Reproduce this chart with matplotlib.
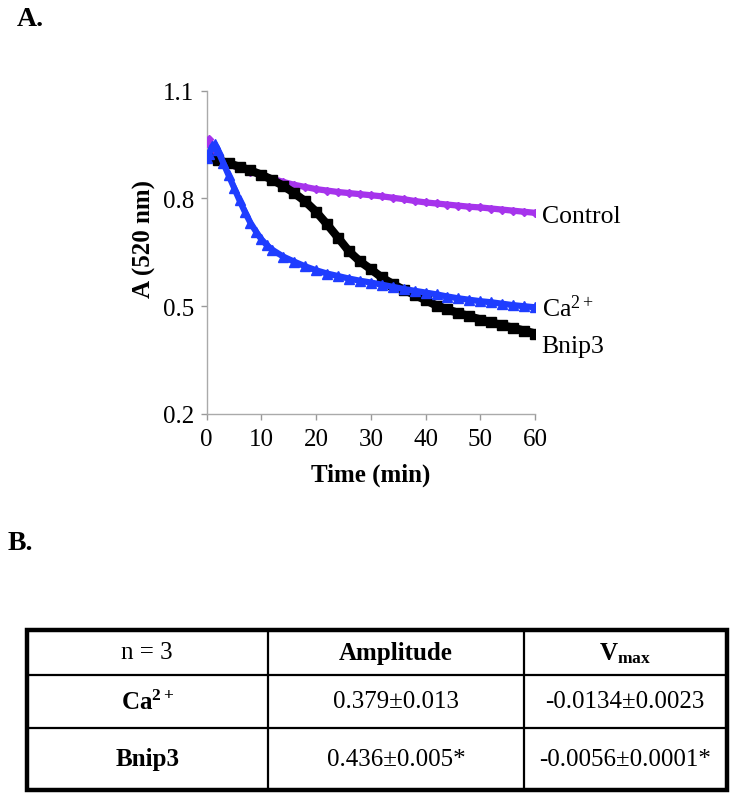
import matplotlib
matplotlib.use("Agg")
import matplotlib.pyplot as plt
from matplotlib.patches import Rectangle

plt.rcParams['font.family'] = ['Liberation Serif', 'DejaVu Serif']
plt.rcParams['mathtext.fontset'] = 'custom'
plt.rcParams['mathtext.rm'] = 'Liberation Serif'
plt.rcParams['mathtext.it'] = 'Liberation Serif:italic'
plt.rcParams['mathtext.bf'] = 'Liberation Serif:bold'

# ---- data ----
control_t = [0, 0.5, 1, 2, 4, 6, 8, 10, 12, 14, 16, 18, 20, 22, 24, 26, 28, 30,
             32, 34, 36, 38, 40, 42, 44, 46, 48, 50, 52, 54, 56, 58, 60]
control_a = [0.955, 0.965, 0.925, 0.905, 0.895, 0.885, 0.875, 0.865, 0.855, 0.846,
             0.838, 0.832, 0.826, 0.822, 0.818, 0.815, 0.812, 0.809, 0.806, 0.802,
             0.798, 0.793, 0.789, 0.786, 0.783, 0.780, 0.777, 0.775, 0.772, 0.769,
             0.766, 0.763, 0.760]

ca_t = [0, 0.5, 1, 1.5, 2, 3, 4, 5, 6, 7, 8, 9, 10, 11, 12, 14, 16, 18, 20, 22, 24,
        26, 28, 30, 32, 34, 36, 38, 40, 42, 44, 46, 48, 50, 52, 54, 56, 58, 60]
ca_a = [0.914, 0.925, 0.945, 0.951, 0.935, 0.900, 0.865, 0.830, 0.795, 0.762, 0.732,
        0.708, 0.686, 0.670, 0.657, 0.638, 0.624, 0.611, 0.600, 0.591, 0.584, 0.577,
        0.571, 0.566, 0.560, 0.554, 0.548, 0.543, 0.538, 0.533, 0.527, 0.522, 0.518,
        0.514, 0.511, 0.507, 0.503, 0.500, 0.497]

bnip_t = [0, 2, 4, 6, 8, 10, 12, 14, 16, 18, 20, 22, 24, 26, 28, 30, 32, 34, 36, 38,
          40, 42, 44, 46, 48, 50, 52, 54, 56, 58, 60]
bnip_a = [0.915, 0.907, 0.898, 0.888, 0.878, 0.866, 0.852, 0.835, 0.815, 0.792, 0.763,
          0.728, 0.691, 0.653, 0.625, 0.603, 0.580, 0.562, 0.546, 0.532, 0.517, 0.502,
          0.491, 0.481, 0.472, 0.463, 0.455, 0.447, 0.440, 0.432, 0.424]

series_labels = ['Control', 'Ca$^{2+}$', 'Bnip3']
label_y = [0.752, 0.497, 0.39]

xticks = [0, 10, 20, 30, 40, 50, 60]
yticks = [0.2, 0.5, 0.8, 1.1]

table_header = ['n = 3', 'Amplitude', r'$\mathbf{V_{max}}$']
table_rows = [[r'$\mathbf{Ca^{2+}}$', '0.379\u00b10.013', '-0.0134\u00b10.0023'],
              ['Bnip3', '0.436\u00b10.005*', '-0.0056\u00b10.0001*']]

W, H = 738, 804
fig = plt.figure(figsize=(W / 100, H / 100), dpi=100)

# ---- chart ----
ax = fig.add_axes([206.7 / W, 1 - 415 / H, (535 - 206.7) / W, (415 - 91.7) / H])
ax.plot(control_t, control_a, color='#a634ec', lw=4.5, marker='D', ms=4.5, zorder=3)
ax.plot(bnip_t, bnip_a, color='black', lw=6, marker='s', ms=7, zorder=4)
ax.plot(ca_t, ca_a, color='#1f3dff', lw=4.5, marker='^', ms=7, zorder=5)

ax.set_xlim(0, 60)
ax.set_ylim(0.2, 1.1)
ax.set_xticks(xticks)
ax.set_yticks(yticks)
ax.set_yticklabels([f'{v:.1f}' for v in yticks])
ax.tick_params(axis='both', labelsize=18, color='#999999', length=4, width=1,
               direction='out')
ax.tick_params(axis='x', pad=6)
ax.tick_params(axis='y', pad=5)
for s in ['top', 'right']:
    ax.spines[s].set_visible(False)
for s in ['left', 'bottom']:
    ax.spines[s].set_color('#aaaaaa')
    ax.spines[s].set_linewidth(1)

for lbl, yv in zip(series_labels, label_y):
    ax.text(61.2, yv, lbl, fontsize=18.5, va='center', ha='left', clip_on=False)

fig.text(371 / W, 1 - 475 / H, 'Time (min)', fontsize=18, fontweight='bold',
         ha='center', va='center')
fig.text(144 / W, 1 - 239 / H, 'A (520 nm)', fontsize=18, fontweight='bold',
         ha='center', va='center', rotation=90)

fig.text(17 / W, 1 - 20 / H, 'A.', fontsize=20, fontweight='bold', ha='left', va='center')
fig.text(8 / W, 1 - 543 / H, 'B.', fontsize=20, fontweight='bold', ha='left', va='center')

# ---- table ----
tab = fig.add_axes([0, 0, 1, 1], zorder=-1)
tab.set_xlim(0, W)
tab.set_ylim(H, 0)
tab.axis('off')
left, right, top, bottom = 26.5, 726.5, 631, 791
cols = [left, 268, 524, right]
rows = [top, 676, 729, bottom]
for x in cols[1:-1]:
    tab.plot([x, x], [top, bottom], color='black', lw=1.6)
for y in rows[1:-1]:
    tab.plot([left, right], [y, y], color='black', lw=1.6)
tab.add_patch(Rectangle((left, top), right - left, bottom - top, fill=False,
                        edgecolor='black', lw=3.2))

cells = [table_header] + table_rows
for r, row in enumerate(cells):
    cy = (rows[r] + rows[r + 1]) / 2
    for c, txt in enumerate(row):
        cx = (cols[c] + cols[c + 1]) / 2
        bold = (r == 0 and c > 0) or (c == 0 and r > 0)
        tab.text(cx, cy, txt, fontsize=18, ha='center', va='center',
                 fontweight='bold' if bold else 'normal')

fig.savefig('out.png', dpi=100)
